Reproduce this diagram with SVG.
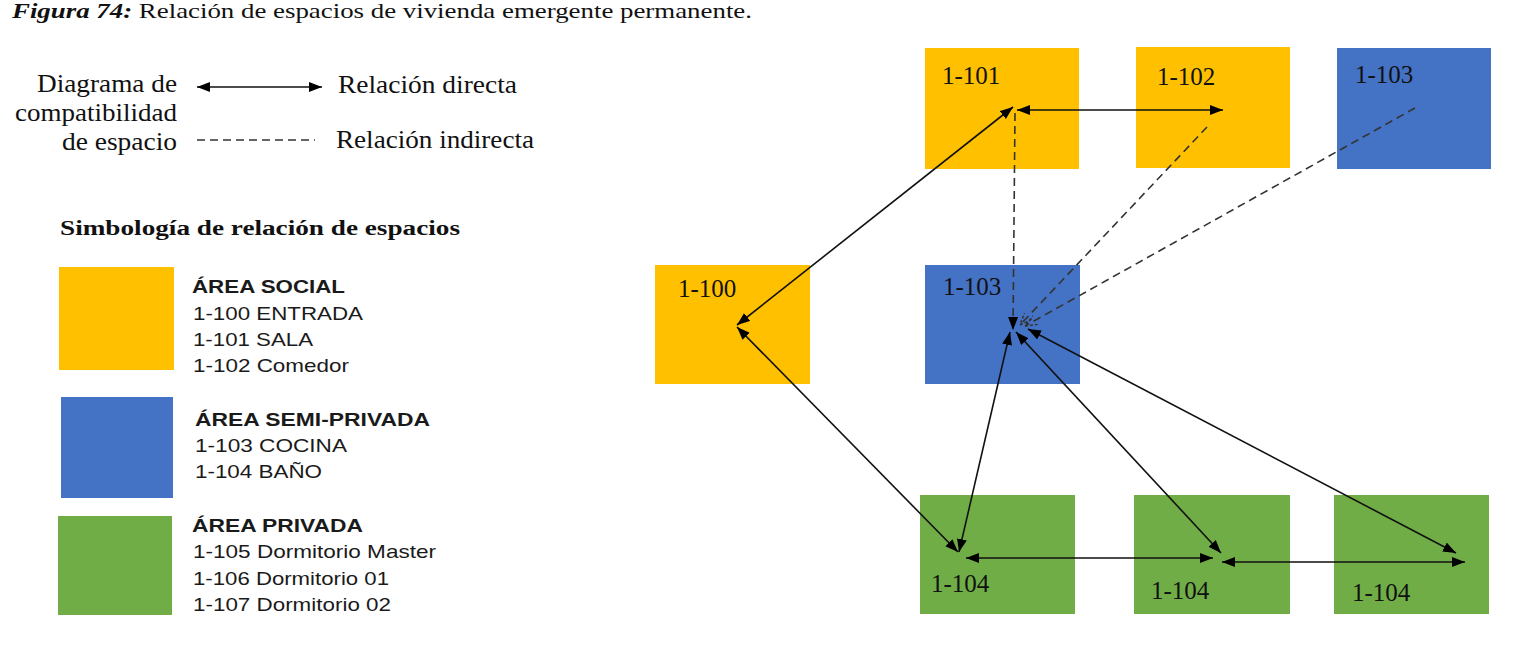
<svg xmlns="http://www.w3.org/2000/svg" width="1524" height="654" viewBox="0 0 1524 654">
<style>
.serif{font-family:"Liberation Serif","Times New Roman",serif;fill:#111;}
.sans{font-family:"Liberation Sans",Arial,sans-serif;fill:#1a1a1a;font-size:19px;}
.bold{font-weight:bold;}
.lbl{font-family:"Liberation Serif","Times New Roman",serif;font-size:25px;fill:#111;}
.ln{stroke:#111;stroke-width:1.6;fill:none;}
.dash{stroke:#333;stroke-width:1.6;fill:none;stroke-dasharray:8 5;}
.soc{fill:#FFC000;}
.semi{fill:#4472C4;}
.priv{fill:#70AD47;}
</style>
<defs>
<marker id="ah" markerUnits="userSpaceOnUse" markerWidth="14" markerHeight="12" refX="13" refY="5" orient="auto-start-reverse">
<path d="M0,0 L13,5 L0,10 z" fill="#000"/>
</marker>
<marker id="oh" markerUnits="userSpaceOnUse" markerWidth="14" markerHeight="12" refX="12" refY="5" orient="auto">
<path d="M0,0 L12,5 L0,10" fill="none" stroke="#333" stroke-width="1.5" stroke-dasharray="3 2"/>
</marker>
</defs>
<rect width="1524" height="654" fill="#fff"/>

<g id="title">
<text x="12" y="18" class="serif" font-size="22" textLength="740" lengthAdjust="spacingAndGlyphs"><tspan font-weight="bold" font-style="italic">Figura 74:</tspan> Relación de espacios de vivienda emergente permanente.</text>
</g>

<g id="legend-relations">
<text x="177" y="92" class="serif" font-size="25" text-anchor="end" textLength="140" lengthAdjust="spacingAndGlyphs">Diagrama de</text>
<text x="177" y="121" class="serif" font-size="25" text-anchor="end" textLength="162" lengthAdjust="spacingAndGlyphs">compatibilidad</text>
<text x="177" y="150" class="serif" font-size="25" text-anchor="end" textLength="115" lengthAdjust="spacingAndGlyphs">de espacio</text>
<line x1="197" y1="87" x2="322" y2="87" class="ln" marker-start="url(#ah)" marker-end="url(#ah)"/>
<text x="338" y="93" class="serif" font-size="25" textLength="179" lengthAdjust="spacingAndGlyphs">Relación directa</text>
<line x1="197" y1="140" x2="315" y2="140" class="dash" stroke-dasharray="9 6"/>
<text x="336" y="148" class="serif" font-size="25" textLength="198" lengthAdjust="spacingAndGlyphs">Relación indirecta</text>
</g>

<g id="legend-symbols">
<text x="60" y="235" class="serif bold" font-size="20" textLength="400" lengthAdjust="spacingAndGlyphs">Simbología de relación de espacios</text>
<rect x="59" y="267" width="115" height="103" class="soc"/>
<text x="192" y="293" class="sans bold" textLength="153" lengthAdjust="spacingAndGlyphs">ÁREA SOCIAL</text>
<text x="193" y="320" class="sans" textLength="170" lengthAdjust="spacingAndGlyphs">1-100 ENTRADA</text>
<text x="193" y="346" class="sans" textLength="120" lengthAdjust="spacingAndGlyphs">1-101 SALA</text>
<text x="193" y="372" class="sans" textLength="156" lengthAdjust="spacingAndGlyphs">1-102 Comedor</text>
<rect x="61" y="397" width="112" height="101" class="semi"/>
<text x="195" y="426" class="sans bold" textLength="235" lengthAdjust="spacingAndGlyphs">ÁREA SEMI-PRIVADA</text>
<text x="195" y="452" class="sans" textLength="152" lengthAdjust="spacingAndGlyphs">1-103 COCINA</text>
<text x="195" y="478" class="sans" textLength="127" lengthAdjust="spacingAndGlyphs">1-104 BAÑO</text>
<rect x="58" y="516" width="114" height="99" class="priv"/>
<text x="192" y="532" class="sans bold" textLength="171" lengthAdjust="spacingAndGlyphs">ÁREA PRIVADA</text>
<text x="193" y="558" class="sans" textLength="243" lengthAdjust="spacingAndGlyphs">1-105 Dormitorio Master</text>
<text x="193" y="585" class="sans" textLength="196" lengthAdjust="spacingAndGlyphs">1-106 Dormitorio 01</text>
<text x="193" y="611" class="sans" textLength="198" lengthAdjust="spacingAndGlyphs">1-107 Dormitorio 02</text>
</g>

<g id="n-1-100"><rect x="655" y="265" width="155" height="119" class="soc"/><text x="678" y="297" class="lbl">1-100</text></g>
<g id="n-1-101"><rect x="925" y="48" width="154" height="121" class="soc"/><text x="942" y="84" class="lbl">1-101</text></g>
<g id="n-1-102"><rect x="1136" y="47" width="154" height="121" class="soc"/><text x="1157" y="85" class="lbl">1-102</text></g>
<g id="n-1-103-top"><rect x="1337" y="48" width="154" height="121" class="semi"/><text x="1355" y="83" class="lbl">1-103</text></g>
<g id="n-1-103-mid"><rect x="925" y="265" width="155" height="119" class="semi"/><text x="943" y="295" class="lbl">1-103</text></g>
<g id="n-1-104-a"><rect x="920" y="495" width="155" height="119" class="priv"/><text x="931" y="592" class="lbl">1-104</text></g>
<g id="n-1-104-b"><rect x="1134" y="495" width="156" height="119" class="priv"/><text x="1151" y="599" class="lbl">1-104</text></g>
<g id="n-1-104-c"><rect x="1334" y="495" width="155" height="119" class="priv"/><text x="1352" y="601" class="lbl">1-104</text></g>

<g id="connectors">
<line x1="737" y1="325" x2="1013" y2="107" class="ln" marker-start="url(#ah)" marker-end="url(#ah)"/>
<line x1="737" y1="327" x2="958" y2="552" class="ln" marker-start="url(#ah)" marker-end="url(#ah)"/>
<line x1="1017" y1="110" x2="1223" y2="110" class="ln" marker-start="url(#ah)" marker-end="url(#ah)"/>
<line x1="1015" y1="113" x2="1013" y2="330" class="dash" marker-end="url(#ah)"/>
<line x1="1207" y1="127" x2="1020" y2="325" class="dash" marker-end="url(#oh)"/>
<line x1="1415" y1="108" x2="1025" y2="326" class="dash" marker-end="url(#oh)"/>
<line x1="959" y1="552" x2="1010" y2="332" class="ln" marker-start="url(#ah)" marker-end="url(#ah)"/>
<line x1="1221" y1="553" x2="1016" y2="332" class="ln" marker-start="url(#ah)" marker-end="url(#ah)"/>
<line x1="1456" y1="553" x2="1028" y2="329" class="ln" marker-start="url(#ah)" marker-end="url(#ah)"/>
<line x1="966" y1="558" x2="1213" y2="558" class="ln" marker-start="url(#ah)" marker-end="url(#ah)"/>
<line x1="1222" y1="562" x2="1465" y2="562" class="ln" marker-start="url(#ah)" marker-end="url(#ah)"/>
</g>
</svg>
